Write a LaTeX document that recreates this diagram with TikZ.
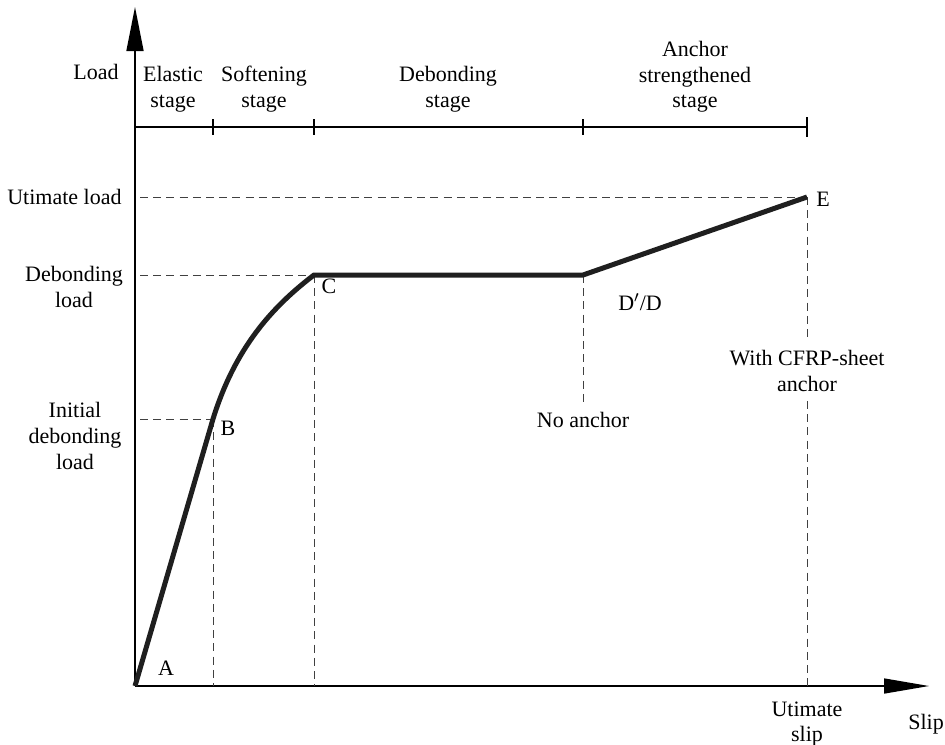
\documentclass[tikz,border=0pt]{standalone}
\usepackage{fontspec}
\setmainfont{Liberation Serif}
\usepackage{tikz}
\usetikzlibrary{arrows.meta}

\begin{document}
\begin{tikzpicture}[x=0.5pt,y=-0.5pt,
    guide/.style={dash pattern=on 4pt off 2.6pt,line width=0.5pt,black!75},
    axisline/.style={line width=0.75pt},
    loadcurve/.style={line width=2.5pt,black!88,line join=miter},
    lbl/.style={font=\fontsize{11}{12.8}\selectfont,align=center,inner sep=0pt}]
  \useasboundingbox (0,0) rectangle (945,744);
  % points of the curve
  \coordinate (A) at (135,686);
  \coordinate (B) at (213,419);
  \coordinate (C) at (314,275);
  \coordinate (D) at (583,275);
  \coordinate (E) at (807,197);
  \coordinate (yend) at (135,7);
  \coordinate (xend) at (929,686);
  % axes
  \draw[axisline,-{Triangle[length=22pt,width=8.5pt]}] (A) -- (yend);
  \draw[axisline,-{Triangle[length=22.5pt,width=7.5pt]}] (A) -- (xend);
  % stages
  \draw[axisline] (135,127) -- (807,127);
  \foreach \x in {213,314,583} {
    \draw[axisline] (\x,119) -- (\x,135);
  }
  \draw[axisline] (807,117) -- (807,137);
  % dashed guides
  \draw[guide] (140,197) -- (E);
  \draw[guide] (140,275) -- (C);
  \draw[guide] (140,419) -- (B);
  \draw[guide] (B) -- (213,686);
  \draw[guide] (C) -- (314,686);
  \draw[guide] (D) -- (583,406);
  \draw[guide] (E) -- (807,342);
  \draw[guide] (807,401) -- (807,686);
  % load-slip curve
  \draw[loadcurve] (A) -- (B) .. controls (235,348) and (272,307) .. (C) -- (D) -- (E);
  % labels
  \node[lbl] (load) at (96,72) {Load};
  \node[lbl] (elastic) at (173,89) {Elastic\\stage};
  \node[lbl] (soft) at (264,89) {Softening\\stage};
  \node[lbl] (debond) at (448,89) {Debonding\\stage};
  \node[lbl] (anchor) at (695,77) {Anchor\\strengthened\\stage};
  \node[lbl,anchor=east] (ultload) at (122,197) {Utimate load};
  \node[lbl] (debload) at (74,287) {Debonding\\load};
  \node[lbl] (initload) at (75,436) {Initial\\debonding\\load};
  \node[lbl] (la) at (166,668) {A};
  \node[lbl] (lb) at (228,428) {B};
  \node[lbl] (lc) at (329,286) {C};
  \node[lbl] (ld) at (640,302) {D$'$/D};
  \node[lbl] (le) at (823,199) {E};
  \node[lbl] (noanc) at (583,420) {No anchor};
  \node[lbl] (cfrp) at (807,371) {With CFRP-sheet\\anchor};
  \node[lbl] (ultslip) at (807,724) {Utimate\\slip};
  \node[lbl] (slip) at (926,724) {Slip};
\end{tikzpicture}
\end{document}
